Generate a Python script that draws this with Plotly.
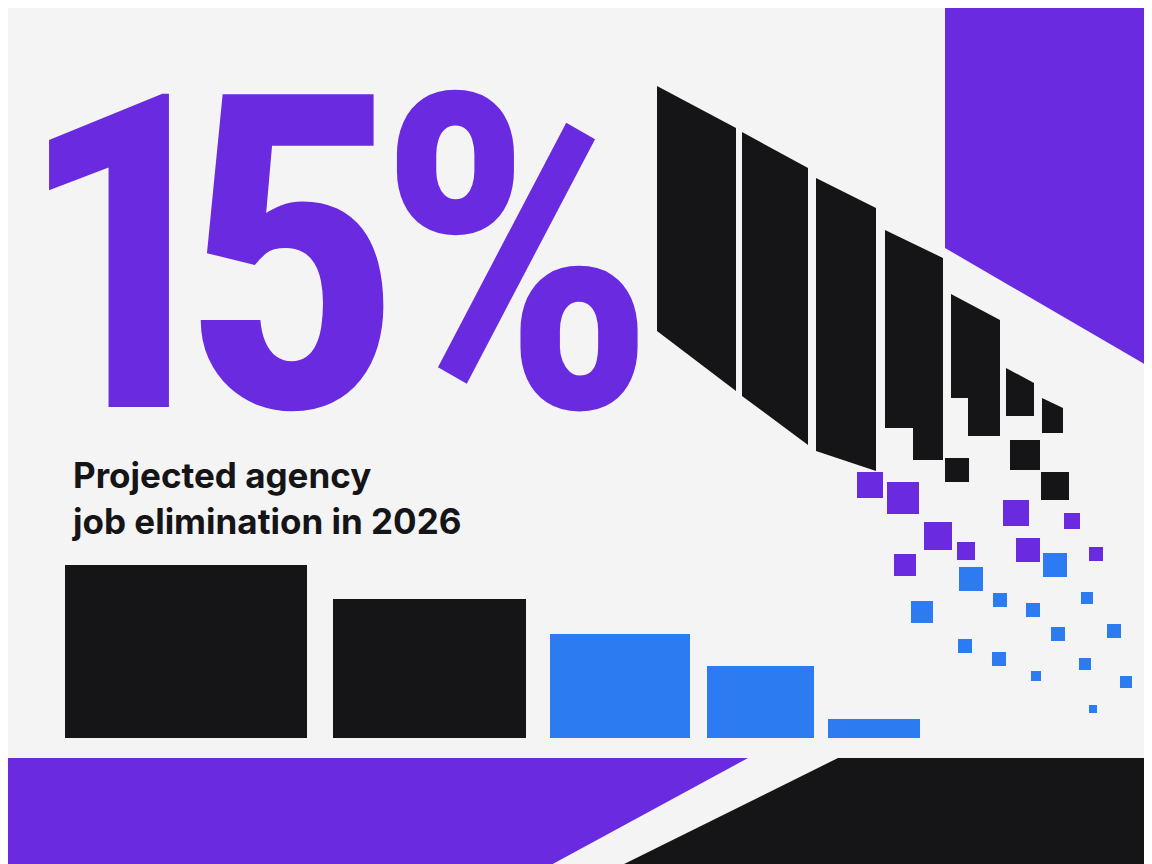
import plotly.graph_objects as go

PURPLE = "#6a2ae0"
BLUE = "#2d7bf0"
BLACK = "#151517"
BG = "#f4f4f5"

# bottom bar chart (pixel-space canvas, y grows downward)
bar_left = [57, 325, 542, 699, 820]
bar_right = [299, 518, 682, 806, 912]
bar_top = [557, 591, 626, 658, 711]
bar_colors = [BLACK, BLACK, BLUE, BLUE, BLUE]
baseline = 730

# slanted black columns: x outline and y outline
col_x = [
    [649, 728, 728, 649],
    [734, 800, 800, 734],
    [808, 868, 868, 808],
    [877, 935, 935, 905, 905, 877],
    [943, 992, 992, 960, 960, 943],
    [998, 1026, 1026, 998],
    [1034, 1055, 1055, 1034],
]
col_y = [
    [78, 120, 383, 323],
    [124, 160, 437, 388],
    [170, 200, 463, 443],
    [222, 250, 452, 452, 420, 420],
    [286, 312, 428, 428, 390, 390],
    [360, 375, 408, 408],
    [390, 400, 425, 425],
]

# falling squares
sq_x = [1017, 949, 1047, 862, 895, 930, 958, 1008, 1064, 1020, 897, 1088,
        1047, 963, 914, 992, 1025, 1079, 1050, 1106, 957, 991, 1028, 1077, 1118, 1085]
sq_y = [447, 462, 478, 477, 490, 528, 543, 505, 513, 542, 557, 546,
        557, 571, 604, 592, 602, 590, 626, 623, 638, 651, 668, 656, 674, 701]
sq_size = [30, 24, 28, 26, 32, 28, 18, 26, 16, 24, 22, 14,
           24, 24, 22, 14, 14, 12, 14, 14, 14, 14, 10, 12, 12, 8]
sq_color = [BLACK] * 3 + [PURPLE] * 9 + [BLUE] * 14

# background blocks
blocks = [
    ([937, 1152, 1152, 937], [0, 0, 365, 240], PURPLE),
    ([0, 740, 530, 0], [750, 750, 864, 864], PURPLE),
    ([830, 1152, 1152, 600], [750, 750, 864, 864], BLACK),
]

fig = go.Figure()

for bx, by, c in blocks:
    fig.add_trace(go.Scatter(x=bx, y=by, fill="toself", fillcolor=c, mode="none"))

for cx, cy in zip(col_x, col_y):
    fig.add_trace(go.Scatter(x=cx, y=cy, fill="toself", fillcolor=BLACK, mode="none"))

fig.add_trace(go.Bar(
    x=[(l + r) / 2 for l, r in zip(bar_left, bar_right)],
    y=[t - baseline for t in bar_top],
    base=baseline,
    width=[r - l for l, r in zip(bar_left, bar_right)],
    marker_color=bar_colors,
    marker_line_width=0,
))

fig.add_trace(go.Scatter(
    x=sq_x, y=sq_y, mode="markers",
    marker=dict(symbol="square", size=sq_size, color=sq_color, line_width=0, opacity=1),
))

big_font = dict(family="Liberation Sans Narrow, Roboto Condensed, Arial Narrow, sans-serif",
                size=440, color=PURPLE)
for ch, cx in zip(["1", "5", "%"], [118, 283, 508]):
    fig.add_annotation(x=cx, y=248, text=f"<b>{ch}</b>", showarrow=False,
                       font=big_font, xanchor="center", yanchor="middle")

fig.add_annotation(x=62, y=490, text="<b>Projected agency<br>job elimination in 2026</b>",
                   showarrow=False, xanchor="left", yanchor="middle", align="left",
                   font=dict(family="Inter, Arial, sans-serif", size=35, color=BLACK))

fig.update_layout(
    width=1152, height=864, showlegend=False,
    margin=dict(l=0, r=0, t=0, b=0),
    paper_bgcolor=BG, plot_bgcolor=BG,
    xaxis=dict(range=[0, 1152], visible=False, fixedrange=True),
    yaxis=dict(range=[864, 0], visible=False, fixedrange=True),
)

fig.write_html("out.html")
